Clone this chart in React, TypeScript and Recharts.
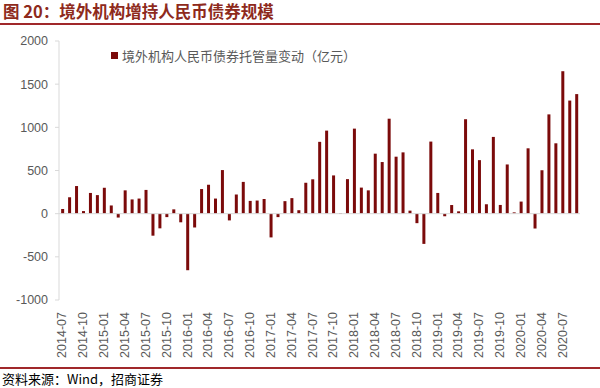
import { BarChart, Bar, XAxis, YAxis, ReferenceLine, Legend } from "recharts"

const months = [
  "2014-07", "2014-08", "2014-09", "2014-10", "2014-11", "2014-12",
  "2015-01", "2015-02", "2015-03", "2015-04", "2015-05", "2015-06",
  "2015-07", "2015-08", "2015-09", "2015-10", "2015-11", "2015-12",
  "2016-01", "2016-02", "2016-03", "2016-04", "2016-05", "2016-06",
  "2016-07", "2016-08", "2016-09", "2016-10", "2016-11", "2016-12",
  "2017-01", "2017-02", "2017-03", "2017-04", "2017-05", "2017-06",
  "2017-07", "2017-08", "2017-09", "2017-10", "2017-11", "2017-12",
  "2018-01", "2018-02", "2018-03", "2018-04", "2018-05", "2018-06",
  "2018-07", "2018-08", "2018-09", "2018-10", "2018-11", "2018-12",
  "2019-01", "2019-02", "2019-03", "2019-04", "2019-05", "2019-06",
  "2019-07", "2019-08", "2019-09", "2019-10", "2019-11", "2019-12",
  "2020-01", "2020-02", "2020-03", "2020-04", "2020-05", "2020-06",
  "2020-07", "2020-08", "2020-09",
]

// 亿元
const custodyChange = [
  55, 190, 320, 30, 240, 215,
  300, 95, -45, 270, 165, 175,
  275, -255, -170, -40, 50, -100,
  -655, -160, 285, 335, 175, 505,
  -78, 222, 368, 148, 152, 170,
  -275, -40, 145, 180, 40, 358,
  398, 832, 962, 443, 8, 400,
  985, 302, 270, 695, 598, 1100,
  660, 710, 35, -110, -350, 835,
  240, -30, 100, 27, 1094, 745,
  620, 109, 889, 101, 570, 15,
  140, 757, -172, 503, 1150, 815,
  1650, 1310, 1385,
]

const yTicks = [-1000, -500, 0, 500, 1000, 1500, 2000]

const seriesName = "境外机构人民币债券托管量变动（亿元）"
const barColor = "#7b0a0a"
const labelColor = "#595959"
const numFont = "'Liberation Sans', Arial, sans-serif"
const cjkFont = "'Noto Sans CJK SC', sans-serif"

const chartData = months.map((month, i) => ({ month, value: custodyChange[i] }))

function MonthTick({ x, y, payload }: any) {
  return (
    <text
      x={x}
      y={y + 4}
      transform={`rotate(-90, ${x}, ${y + 4})`}
      textAnchor="end"
      dominantBaseline="central"
      fill={labelColor}
      fontSize={12.5}
      fontFamily={numFont}
    >
      {payload.value}
    </text>
  )
}

function LegendBox() {
  return (
    <div style={{ display: "flex", alignItems: "center", fontFamily: cjkFont, fontSize: 13, color: labelColor }}>
      <span style={{ width: 7, height: 7, background: barColor, display: "inline-block", marginRight: 4 }} />
      {seriesName}
    </div>
  )
}

export default function App() {
  return (
    <div style={{ position: "absolute", left: 0, top: 0, width: 600, height: 388, background: "#fff", overflow: "hidden" }}>
      <div
        style={{
          position: "absolute",
          left: 3,
          top: 1,
          fontFamily: cjkFont,
          fontWeight: 700,
          fontSize: 16.5,
          color: "#8e2a1c",
          lineHeight: "21px",
          whiteSpace: "nowrap",
        }}
      >
        图 20：境外机构增持人民币债券规模
      </div>
      <div style={{ position: "absolute", left: 0, top: 23, width: 600, height: 2, background: "#a0282a" }} />

      <div style={{ position: "absolute", left: 0, top: 0 }}>
        <BarChart
          width={600}
          height={388}
          data={chartData}
          margin={{ top: 41, right: 20, bottom: 26, left: 0 }}
          barCategoryGap="31%"
        >
          <YAxis
            domain={[-1000, 2000]}
            ticks={yTicks}
            interval={0}
            width={59}
            axisLine={{ stroke: "#d9d9d9" }}
            tickLine={{ stroke: "#d9d9d9" }}
            tickSize={4}
            tickMargin={7}
            tick={{ fill: labelColor, fontSize: 12.5, fontFamily: numFont }}
          />
          <XAxis
            dataKey="month"
            interval={2}
            height={62}
            axisLine={false}
            tickLine={false}
            tick={<MonthTick />}
          />
          <ReferenceLine y={0} stroke="#d9d9d9" />
          <Legend
            layout="horizontal"
            verticalAlign="middle"
            align="center"
            content={<LegendBox />}
            wrapperStyle={{ top: 46, left: 111, width: "auto" }}
          />
          <Bar dataKey="value" name={seriesName} fill={barColor} isAnimationActive={false} />
        </BarChart>
      </div>

      <div style={{ position: "absolute", left: 0, top: 367, width: 600, height: 1.5, background: "#a0282a" }} />
      <div
        style={{
          position: "absolute",
          left: 2,
          top: 370,
          fontFamily: cjkFont,
          fontSize: 13,
          color: "#000",
          lineHeight: "17px",
          whiteSpace: "nowrap",
        }}
      >
        资料来源：Wind，招商证券
      </div>
    </div>
  )
}
